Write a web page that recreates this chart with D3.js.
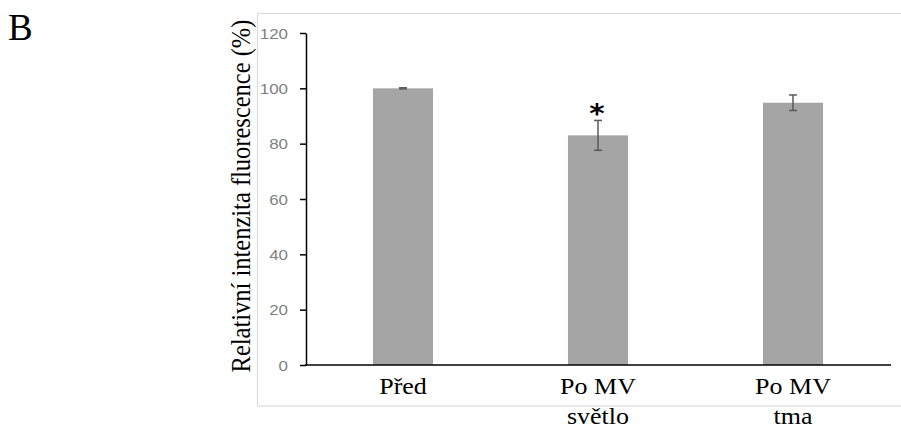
<!DOCTYPE html>
<html lang="cs">
<head>
<meta charset="utf-8">
<title>Relativní intenzita fluorescence</title>
<script src="https://d3js.org/d3.v7.min.js"></script>
<style>
  body { margin: 0; background: #fff; }
</style>
</head>
<body>
<div id="chart"></div>
<script>
// data
var categories = [["Před"], ["Po MV", "světlo"], ["Po MV", "tma"]];
var values = [100, 83, 94.8];
var errors = [0.2, 5.4, 2.8];
var significant = [false, true, false];
var yTicks = [0, 20, 40, 60, 80, 100, 120];

var W = 901, H = 425;
var stretch = 1.13;   // picture is a bit wider than tall
var serif = "'Liberation Serif', 'Times New Roman', serif";

var svg = d3.select("#chart").append("svg")
    .attr("width", W).attr("height", H);

// light frame round the plot
svg.append("rect")
   .attr("x", 257.5).attr("y", 13.5)
   .attr("width", 700).attr("height", 392.5)
   .style("fill", "none").style("stroke", "#dcdcdc").style("stroke-width", 1.2);

var x = d3.scaleBand()
    .domain(d3.range(categories.length))
    .range([305.5, 890.5])
    .paddingInner(0.692).paddingOuter(0.346);

var y = d3.scaleLinear().domain([0, 120]).range([365, 33]);

// bars
svg.append("g").selectAll("rect")
   .data(values).join("rect")
   .attr("x", (d, i) => x(i))
   .attr("y", d => y(d))
   .attr("width", x.bandwidth())
   .attr("height", d => y(0) - y(d))
   .style("fill", "#a5a5a5");

// error bars
var eb = svg.append("g").style("stroke", "#595959").style("stroke-width", 1.5);
values.forEach(function(v, i) {
  var cx = x(i) + x.bandwidth() / 2;
  eb.append("line").attr("x1", cx).attr("x2", cx).attr("y1", y(v + errors[i])).attr("y2", y(v - errors[i]));
  eb.append("line").attr("x1", cx - 4).attr("x2", cx + 4).attr("y1", y(v + errors[i])).attr("y2", y(v + errors[i]));
  eb.append("line").attr("x1", cx - 4).attr("x2", cx + 4).attr("y1", y(v - errors[i])).attr("y2", y(v - errors[i]));
});

// asterisk
svg.append("g").selectAll("text")
   .data(values.map((v, i) => i).filter(i => significant[i])).join("text")
   .attr("transform", i => "translate(" + (x(i) + x.bandwidth() / 2 - 1) + "," + (y(values[i] + errors[i]) + 3) + ") scale(1.13,1)")
   .attr("text-anchor", "middle")
   .style("font-family", "'DejaVu Sans', sans-serif")
   .style("font-weight", "bold")
   .style("font-size", "26px")
   .text("*");

// y axis
var yAxis = svg.append("g")
   .attr("transform", "translate(306,0)")
   .call(d3.axisLeft(y).tickValues(yTicks).tickSize(6).tickSizeOuter(0).tickFormat(d3.format("d")));
yAxis.select(".domain").style("stroke", "#000").style("stroke-width", 1.5);
yAxis.selectAll(".tick line").style("stroke", "#000").style("stroke-width", 1.5);
yAxis.selectAll(".tick text")
   .attr("x", null).attr("dy", null)
   .attr("text-anchor", "end")
   .style("font-family", "'Liberation Sans', Arial, sans-serif")
   .style("font-size", "15px")
   .style("fill", "#7f7f7f")
   .attr("transform", "translate(-18,5) scale(" + stretch + ",1)");

// x axis line
svg.append("line")
   .attr("x1", 305).attr("x2", 891).attr("y1", y(0)).attr("y2", y(0))
   .style("stroke", "#000").style("stroke-width", 1.5);

// category labels
var lab = svg.append("g").selectAll("text")
   .data(categories).join("text")
   .attr("text-anchor", "middle")
   .style("font-family", serif)
   .style("font-size", "23px")
   .style("fill", "#000")
   .attr("transform", (d, i) => "translate(" + (x(i) + x.bandwidth() / 2) + ",394) scale(" + stretch + ",1)");
lab.selectAll("tspan")
   .data(d => d).join("tspan")
   .attr("x", 0)
   .attr("y", (d, j) => j * 30)
   .text(d => d);

// y axis title
svg.append("text")
   .attr("text-anchor", "middle")
   .style("font-family", serif)
   .style("font-size", "24.5px")
   .style("fill", "#000")
   .attr("transform", "translate(250,196) scale(" + stretch + ",1) rotate(-90)")
   .text("Relativní intenzita fluorescence (%)");

// panel letter
svg.append("text")
   .attr("x", 8).attr("y", 40)
   .style("font-family", serif)
   .style("font-size", "37px")
   .style("fill", "#000")
   .text("B");
</script>
</body>
</html>
